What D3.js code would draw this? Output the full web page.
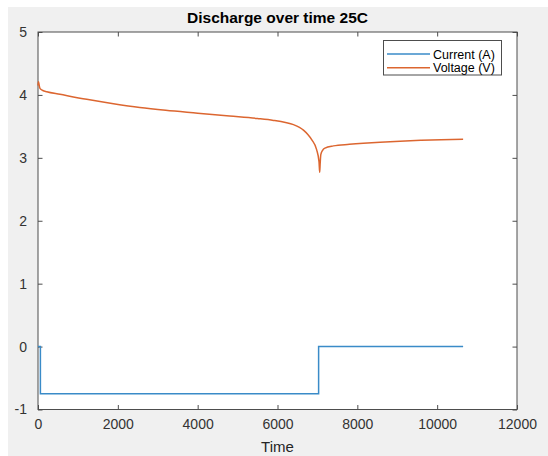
<!DOCTYPE html>
<html>
<head>
<meta charset="utf-8">
<script src="https://cdn.jsdelivr.net/npm/d3@7"></script>
<style>
  html, body { margin: 0; padding: 0; background: #ffffff; }
  svg { display: block; }
  text { font-family: "Liberation Sans", Arial, Helvetica, sans-serif; }
</style>
</head>
<body>
<svg id="chart" width="548" height="456"></svg>
<script>
// ---- data ----
const title = "Discharge over time 25C";
const xLabel = "Time";
const seriesNames = ["Current (A)", "Voltage (V)"];
const xTicks = [0, 2000, 4000, 6000, 8000, 10000, 12000];
const yTicks = [-1, 0, 1, 2, 3, 4, 5];

const currentTime  = [0, 60, 60, 7030, 7030, 10650];
const currentValue = [0, 0, -0.75, -0.75, 0, 0];

const voltageTime  = [0, 12, 25, 45, 70, 120, 220, 550, 1220, 1890, 2550, 3200, 4000, 4800, 5500, 5900, 6200, 6400, 6550, 6650, 6760, 6860, 6980, 7040, 7057, 7070, 7085, 7130, 7190, 7400, 7800, 8150, 8570, 9070, 9600, 10100, 10650];
const voltageValue = [4.15, 4.21, 4.17, 4.11, 4.09, 4.07, 4.05, 4.01, 3.93, 3.86, 3.80, 3.755, 3.71, 3.665, 3.625, 3.595, 3.562, 3.528, 3.485, 3.44, 3.37, 3.285, 3.13, 2.94, 2.77, 2.92, 3.05, 3.12, 3.155, 3.19, 3.215, 3.232, 3.248, 3.265, 3.278, 3.288, 3.297];

// ---- layout ----
const svg = d3.select("#chart");
const W = 548, H = 456;
const plot = { left: 38, right: 517, top: 32, bottom: 409.5 };

svg.append("rect").attr("x", 8).attr("y", 7).attr("width", W - 8).attr("height", H - 7).attr("fill", "#f0f0f0");

const x = d3.scaleLinear().domain([0, 12000]).range([plot.left, plot.right]);
const y = d3.scaleLinear().domain([-1, 5]).range([plot.bottom, plot.top]);

svg.append("rect")
  .attr("x", plot.left).attr("y", plot.top)
  .attr("width", plot.right - plot.left).attr("height", plot.bottom - plot.top)
  .attr("fill", "#ffffff");

const axisColor = "#4d4d4d";
const tickLen = 4.5;
const fmt = d => String(d);

function styleAxis(g) {
  g.select(".domain").remove();
  g.selectAll(".tick line").attr("stroke", axisColor);
  g.selectAll(".tick text").attr("fill", "#333333").attr("font-size", "14px");
}

// bottom axis (ticks inward)
svg.append("g").attr("transform", `translate(0,${plot.bottom})`)
  .call(d3.axisBottom(x).tickValues(xTicks).tickFormat(fmt).tickSizeInner(-tickLen).tickSizeOuter(0).tickPadding(10))
  .call(styleAxis);
// top axis ticks
svg.append("g").attr("transform", `translate(0,${plot.top})`)
  .call(d3.axisTop(x).tickValues(xTicks).tickFormat("").tickSizeInner(-tickLen).tickSizeOuter(0))
  .call(styleAxis);
// left axis
svg.append("g").attr("transform", `translate(${plot.left},0)`)
  .call(d3.axisLeft(y).tickValues(yTicks).tickFormat(fmt).tickSizeInner(-tickLen).tickSizeOuter(0).tickPadding(11))
  .call(styleAxis);
// right axis ticks
svg.append("g").attr("transform", `translate(${plot.right},0)`)
  .call(d3.axisRight(y).tickValues(yTicks).tickFormat("").tickSizeInner(-tickLen).tickSizeOuter(0))
  .call(styleAxis);

// box
svg.append("rect")
  .attr("x", plot.left).attr("y", plot.top)
  .attr("width", plot.right - plot.left).attr("height", plot.bottom - plot.top)
  .attr("fill", "none").attr("stroke", axisColor).attr("stroke-width", 1);

// lines
const colors = ["#3a8bc8", "#dc6630"];
const line = d3.line().x(d => x(d[0])).y(d => y(d[1]));

const currentData = currentTime.map((t, i) => [t, currentValue[i]]);
const voltageData = voltageTime.map((t, i) => [t, voltageValue[i]]);

svg.append("path").datum(currentData).attr("d", line)
  .attr("fill", "none").attr("stroke", colors[0]).attr("stroke-width", 1.5);
svg.append("path").datum(voltageData).attr("d", d3.line().x(d => x(d[0])).y(d => y(d[1])).curve(d3.curveMonotoneX))
  .attr("fill", "none").attr("stroke", colors[1]).attr("stroke-width", 1.5);

// title
svg.append("text").attr("x", (plot.left + plot.right) / 2).attr("y", 23)
  .attr("text-anchor", "middle").attr("font-size", "15.5px").attr("font-weight", "bold")
  .attr("fill", "#000").text(title);

// x label
svg.append("text").attr("x", (plot.left + plot.right) / 2).attr("y", 452)
  .attr("text-anchor", "middle").attr("font-size", "15px").attr("fill", "#262626").text(xLabel);

// legend
const lg = svg.append("g");
lg.append("rect").attr("x", 383.5).attr("y", 40.5).attr("width", 118).attr("height", 34.5)
  .attr("fill", "#ffffff").attr("stroke", axisColor).attr("stroke-width", 1);
seriesNames.forEach((name, i) => {
  const ly = 54 + i * 13.7;
  lg.append("line").attr("x1", 387).attr("x2", 430).attr("y1", ly).attr("y2", ly)
    .attr("stroke", colors[i]).attr("stroke-width", 1.4);
  lg.append("text").attr("x", 433).attr("y", ly + 4.5).attr("font-size", "12.5px")
    .attr("fill", "#000").text(name);
});
</script>
</body>
</html>
